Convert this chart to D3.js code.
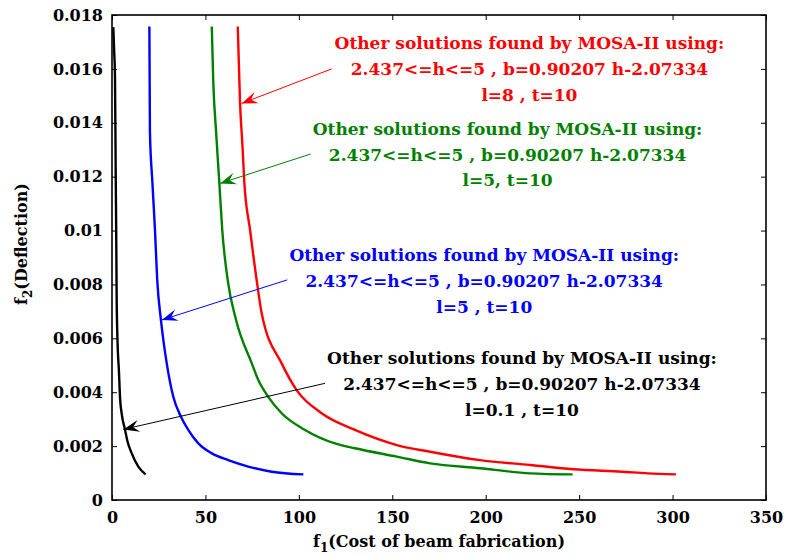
<!DOCTYPE html>
<html>
<head>
<meta charset="utf-8">
<script src="https://cdn.jsdelivr.net/npm/d3@7"></script>
<style>
    html, body { margin: 0; padding: 0; background: #fff; }
    text { font-family: "DejaVu Serif", serif; font-weight: bold; }
</style>
</head>
<body>
<svg id="chart" width="785" height="557"></svg>
<script>
// tick values
const xTicks = [0, 50, 100, 150, 200, 250, 300, 350];
const yTicks = [0, 0.002, 0.004, 0.006, 0.008, 0.01, 0.012, 0.014, 0.016, 0.018];

// l=0.1 (black)
const blackF1 = [0.7, 1.2, 1.6, 2.0, 2.3, 2.5, 3.0, 3.7, 4.3, 5.2, 7.0, 8.2, 10.5, 14.1, 18.0];
const blackF2 = [0.01755, 0.0166, 0.0157, 0.012, 0.0095, 0.0075, 0.0058, 0.0048, 0.0038, 0.0032, 0.0026, 0.0022, 0.00174, 0.00124, 0.00095];

// l=5 (blue)
const blueF1 = [20.0, 20.3, 21.6, 23.0, 24.2, 26.2, 29.3, 32.8, 36.9, 40.8, 46.2, 53.4, 62.2, 72.9, 85.5, 102.4];
const blueF2 = [0.01757, 0.01367, 0.01181, 0.01002, 0.00817, 0.00668, 0.00507, 0.00383, 0.00309, 0.0026, 0.0021, 0.00173, 0.00148, 0.00124, 0.00105, 0.00095];

// l=5 (green)
const greenF1 = [53.4, 54.2, 55.7, 57.4, 59.0, 61.9, 66.4, 74.8, 78.3, 83.6, 90.8, 103.3, 119.3, 130.0, 152.4, 170.2, 196.9, 223.7, 246.5];
const greenF2 = [0.01757, 0.01552, 0.01367, 0.01181, 0.01002, 0.00817, 0.00668, 0.00507, 0.00445, 0.00383, 0.00322, 0.0026, 0.0021, 0.00192, 0.00161, 0.00136, 0.00118, 0.00099, 0.00095];

// l=8 (red)
const redF1 = [67.3, 68.5, 69.9, 70.8, 73.9, 77.4, 80.1, 90.8, 98.8, 112.2, 130.0, 152.4, 170.2, 196.9, 223.7, 246.9, 272.9, 286.8, 301.8];
const redF2 = [0.01757, 0.01478, 0.01305, 0.01181, 0.01002, 0.00817, 0.00693, 0.00507, 0.00408, 0.00322, 0.0026, 0.00204, 0.00179, 0.00148, 0.0013, 0.00114, 0.00105, 0.00099, 0.00095];

const header = 'Other solutions found by MOSA-II using:';
const rangeText = '2.437<=h<=5 , b=0.90207 h-2.07334';

const series = [
    { f1: blackF1, f2: blackF2, color: '#000000' },
    { f1: blueF1, f2: blueF2, color: '#0000ff' },
    { f1: greenF1, f2: greenF2, color: '#008000' },
    { f1: redF1, f2: redF2, color: '#ff0000' }
];

// text anchor (centre of first line), arrow start and arrow tip, in data units
const notes = [
    { color: '#ff0000', lines: [header, rangeText, 'l=8 , t=10'], at: [223.4, 0.01696], from: [117.6, 0.0160], to: [69.4, 0.01472] },
    { color: '#008000', lines: [header, rangeText, 'l=5, t=10'], at: [211.7, 0.01378], from: [106.3, 0.01284], to: [57.8, 0.01175] },
    { color: '#0000ff', lines: [header, rangeText, 'l=5 , t=10'], at: [199.2, 0.00909], from: [93.8, 0.00817], to: [26.6, 0.00668] },
    { color: '#000000', lines: [header, rangeText, 'l=0.1 , t=10'], at: [219.4, 0.00526], from: [114.0, 0.00433], to: [6.05, 0.00262] }
];

const margin = { top: 15, right: 19, bottom: 57, left: 112 };
const width = 785 - margin.left - margin.right,
    height = 557 - margin.top - margin.bottom;

const svg = d3.select('#chart');
svg.append('rect').attr('width', 785).attr('height', 557).attr('fill', '#fff');

const g = svg.append('g').attr('transform', `translate(${margin.left},${margin.top})`);

const x = d3.scaleLinear().domain([0, 350]).range([0, width]);
const y = d3.scaleLinear().domain([0, 0.018]).range([height, 0]);

const yFormat = d => d === 0 ? '0' : String(+d.toFixed(3));

/**
 * style an axis group
 * @param {d3.Selection} axis
 */
const styleAxis = (axis) => {
    axis.select('.domain').remove();
    axis.selectAll('line').attr('stroke', '#000').attr('stroke-width', 1);
    axis.selectAll('text')
        .attr('fill', '#000')
        .style('font-size', '16px')
        .style('font-family', '"DejaVu Serif", serif')
        .style('font-weight', 'bold');
};

g.append('g')
    .attr('transform', `translate(0,${height})`)
    .call(d3.axisBottom(x).tickValues(xTicks).tickSize(-5).tickPadding(12))
    .call(styleAxis);

g.append('g')
    .call(d3.axisTop(x).tickValues(xTicks).tickSize(-5).tickFormat(''))
    .call(styleAxis);

g.append('g')
    .call(d3.axisLeft(y).tickValues(yTicks).tickSize(-5).tickFormat(yFormat).tickPadding(9))
    .call(styleAxis);

g.append('g')
    .attr('transform', `translate(${width},0)`)
    .call(d3.axisRight(y).tickValues(yTicks).tickSize(-5).tickFormat(''))
    .call(styleAxis);

// frame
g.append('rect')
    .attr('width', width)
    .attr('height', height)
    .attr('fill', 'none')
    .attr('stroke', '#000')
    .attr('stroke-width', 1.6);

// curves
const line = d3.line()
    .curve(d3.curveMonotoneX)
    .x(d => x(d[0]))
    .y(d => y(d[1]));

series.forEach(s => {
    g.append('path')
        .datum(d3.zip(s.f1, s.f2))
        .attr('d', line)
        .attr('fill', 'none')
        .attr('stroke', s.color)
        .attr('stroke-width', 2.4)
        .attr('stroke-linejoin', 'round');
});

// annotations
const headLen = 16,
    headHalf = 6;

notes.forEach(n => {
    const x1 = x(n.from[0]), y1 = y(n.from[1]),
        x2 = x(n.to[0]), y2 = y(n.to[1]);
    const ang = Math.atan2(y2 - y1, x2 - x1);

    g.append('line')
        .attr('x1', x1)
        .attr('y1', y1)
        .attr('x2', x2)
        .attr('y2', y2)
        .attr('stroke', n.color)
        .attr('stroke-width', 1);

    const head = [[0, 0], [-headLen, -headHalf], [-headLen * 0.62, 0], [-headLen, headHalf]];
    g.append('path')
        .attr('d', 'M' + head.map(p => p.join(',')).join('L') + 'Z')
        .attr('transform', `translate(${x2},${y2}) rotate(${ang * 180 / Math.PI})`)
        .attr('fill', n.color);

    const t = g.append('text')
        .attr('text-anchor', 'middle')
        .attr('fill', n.color)
        .style('font-size', '17px');

    n.lines.forEach((s, i) => {
        t.append('tspan')
            .attr('x', x(n.at[0]))
            .attr('y', y(n.at[1]) + i * 25.7)
            .attr('dy', '0.36em')
            .text(s);
    });
});

// axis titles
const xTitle = svg.append('text')
    .attr('x', margin.left + width / 2)
    .attr('y', 547)
    .attr('text-anchor', 'middle')
    .style('font-size', '16px');
xTitle.append('tspan').text('f');
xTitle.append('tspan').attr('dy', 5).style('font-size', '12px').text('1');
xTitle.append('tspan').attr('dy', -5).text('(Cost of beam fabrication)');

const yTitle = svg.append('text')
    .attr('transform', 'translate(27,244) rotate(-90)')
    .attr('text-anchor', 'middle')
    .style('font-size', '16px');
yTitle.append('tspan').text('f');
yTitle.append('tspan').attr('dy', 5).style('font-size', '12px').text('2');
yTitle.append('tspan').attr('dy', -5).text('(Deflection)');
</script>
</body>
</html>
